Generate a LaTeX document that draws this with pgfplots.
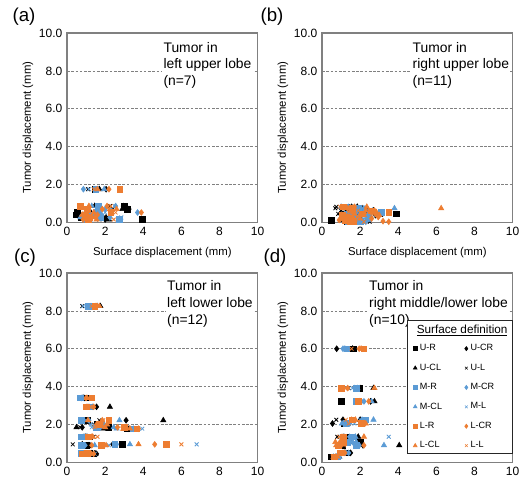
\documentclass[border=0pt]{standalone}
\usepackage{fontspec}
\setmainfont{Liberation Sans}
\usepackage{pgfplots}
\usepackage{pgfplotstable}
\pgfplotsset{compat=1.18}

\definecolor{ublk}{HTML}{000000}
\definecolor{mblu}{HTML}{5B9BD5}
\definecolor{lorg}{HTML}{ED7D31}

% one row per tumour: tumour displacement y, surface displacement for the 12 surface definitions
\pgfplotstableread{
y    UR   UCR  UCL  UL   MR   MCR  MCL  ML   LR   LCR  LCL  LL
1.75 1.45 2.05 1.70 1.10 1.50 0.86 1.95 1.15 2.77 2.20 1.60 1.40
0.86 3.00 2.95 1.45 2.25 1.65 2.55 1.30 2.50 0.70 2.10 1.15 2.30
0.70 3.15 3.25 2.90 2.40 1.05 2.00 1.70 2.30 1.05 1.85 2.60 2.20
0.52 0.55 1.00 1.25 1.10 1.50 3.70 1.75 2.00 2.30 3.90 1.40 2.55
0.40 0.45 0.70 0.90 1.30 1.25 1.10 0.95 1.60 0.95 1.60 0.80 1.00
0.26 0.75 1.90 2.05 2.15 1.75 2.25 0.70 2.85 1.20 1.00 1.45 0.90
0.15 3.95 2.00 2.20 1.70 2.75 0.90 1.20 2.80 1.10 0.85 1.55 2.45
}\tabA
\pgfplotstableread{
y    UR   UCR  UCL  UL   MR   MCR  MCL  ML   LR   LCR  LCL  LL
0.82 1.30 1.55 1.85 0.75 1.20 1.40 1.00 1.65 1.10 1.70 2.35 0.95
0.74 1.50 1.75 2.10 0.70 1.90 2.20 3.80 1.45 1.60 1.35 6.25 1.20
0.62 2.40 2.10 2.70 1.00 2.60 2.65 2.20 2.45 2.55 2.75 2.30 1.90
0.54 1.95 2.25 1.25 2.30 3.10 1.80 1.50 3.20 3.50 1.60 2.85 1.40
0.45 3.90 0.95 1.10 0.85 1.30 2.45 2.00 1.50 2.10 2.80 1.70 2.60
0.38 1.20 2.80 3.05 1.60 1.45 1.25 2.90 1.75 1.05 2.00 3.00 2.25
0.28 1.75 1.40 2.55 2.05 2.45 1.55 1.90 2.40 1.25 2.95 1.45 1.85
0.20 1.05 1.25 1.60 1.35 1.70 2.35 1.15 2.20 1.50 2.60 2.00 1.60
0.12 0.50 1.45 1.80 1.15 1.55 1.95 2.45 1.30 1.20 0.90 1.70 1.05
0.06 1.30 2.05 1.50 1.75 2.00 1.65 2.10 1.85 1.65 3.20 1.35 1.55
0.03 1.60 2.15 1.90 2.50 1.35 2.30 1.75 2.05 1.45 3.50 1.25 2.20
}\tabB
\pgfplotstableread{
y    UR   UCR  UCL  UL   MR   MCR  MCL  ML   LR   LCR  LCL  LL
8.25 1.40 1.55 1.75 0.80 1.10 1.25 1.60 0.85 1.45 1.50 1.70 1.30
3.40 0.95 0.90 0.85 0.80 0.70 0.75 0.80 0.90 1.30 1.00 1.05 1.10
2.93 1.25 1.55 2.25 1.20 1.10 1.35 1.15 1.30 1.00 1.40 1.05 1.20
2.22 1.05 3.10 5.05 1.70 0.75 1.15 2.75 1.00 2.20 1.85 1.10 1.90
2.00 1.60 1.75 1.50 1.40 1.80 1.65 1.95 1.25 1.70 1.55 2.10 1.85
1.85 2.20 0.80 0.50 0.70 1.55 1.75 2.45 1.30 3.00 2.65 2.00 1.45
1.78 3.15 3.25 1.90 2.10 3.45 3.50 2.60 3.95 3.65 3.75 3.30 2.90
1.35 1.20 1.05 0.95 1.40 0.75 0.85 1.00 1.25 1.10 1.30 1.35 1.60
0.95 2.90 2.40 0.80 0.30 2.50 2.60 3.30 6.80 5.20 4.60 3.75 6.00
0.90 1.00 1.20 1.15 0.90 0.75 0.95 1.45 2.20 1.80 1.30 2.05 1.95
0.47 1.20 1.45 1.30 1.10 0.75 0.95 1.05 1.35 1.05 1.25 0.90 1.15
0.45 1.35 1.55 1.50 1.25 0.95 1.15 1.20 1.45 0.80 1.40 1.00 1.30
}\tabC
\pgfplotstableread{
y    UR   UCR  UCL  UL   MR   MCR  MCL  ML   LR   LCR  LCL  LL
6.00 1.65 0.77 1.60 1.50 1.30 1.10 1.20 1.25 2.20 1.95 2.05 1.55
3.92 1.95 2.00 2.70 1.40 1.80 1.70 1.85 1.60 1.00 1.35 2.75 1.20
3.22 1.00 2.55 2.75 2.15 1.80 2.20 2.60 2.05 1.90 2.45 1.95 1.85
2.25 1.60 1.10 2.00 0.75 2.30 2.10 2.70 2.00 1.60 1.55 1.75 1.25
2.05 1.15 0.55 1.35 1.20 1.25 1.45 1.05 1.70 2.05 2.25 2.30 1.40
1.35 1.30 1.15 1.90 0.80 1.60 1.45 1.75 3.50 1.10 1.05 2.20 0.90
1.07 2.00 1.40 1.50 1.25 1.35 1.60 1.80 1.70 1.10 0.95 0.70 1.00
0.90 1.05 2.15 4.05 1.90 1.80 1.95 3.25 1.75 0.85 2.20 0.75 1.15
0.50 1.30 1.50 1.20 1.10 1.05 1.40 1.25 0.95 0.95 1.20 1.10 1.00
0.30 0.45 0.85 0.90 0.70 0.80 0.60 0.75 0.95 0.65 0.70 0.80 0.55
}\tabD

\pgfplotsset{
  panel/.style={
    scale only axis, width=143pt, height=142pt,
    xmin=0, xmax=10, ymin=0, ymax=10,
    xtick={0,2,...,10}, ytick={0,2,...,10},
    /pgf/number format/assume math mode=true,
    yticklabel style={/pgf/number format/fixed, /pgf/number format/fixed zerofill,
                      /pgf/number format/precision=1},
    tick label style={font=\fontsize{9}{10}\selectfont},
    major tick length=0pt,
    axis line style={black!50, line width=0.8pt},
    ymajorgrids, grid style={black!50, dash pattern=on 2pt off 1.2pt, line width=0.5pt},
    ylabel={Tumor displacement (mm)},
    ylabel style={font=\fontsize{8.5}{10}\selectfont, at={(axis description cs:-0.205,0.5)}, anchor=center},
    xlabel style={font=\fontsize{8.5}{10}\selectfont, at={(axis description cs:0.5,-0.158)}, anchor=center},
    clip=false,
  },
  ser/.style={only marks,
    legend image code/.code={\draw[mark repeat=2,mark phase=2,##1] plot coordinates {(0cm,0cm) (0.11cm,0cm) (0.22cm,0cm)};}},
}
\tikzset{note/.style={anchor=north west, fill=white, inner sep=1pt, align=left,
                      font=\fontsize{10.4}{12.5}\selectfont}}

\newcommand\allseries[1]{%
  \addplot[ser, ublk, mark=square*, mark size=2.1pt] table[x=UR, y=y] {#1};
  \addplot[ser, ublk, mark=diamond*, mark size=2.2pt] table[x=UCR, y=y] {#1};
  \addplot[ser, ublk, mark=triangle*, mark size=2.3pt] table[x=UCL, y=y] {#1};
  \addplot[ser, ublk, mark=x, mark size=2pt, mark options={line width=0.6pt}] table[x=UL, y=y] {#1};
  \addplot[ser, mblu, mark=square*, mark size=2.1pt] table[x=MR, y=y] {#1};
  \addplot[ser, mblu, mark=diamond*, mark size=2.2pt] table[x=MCR, y=y] {#1};
  \addplot[ser, mblu, mark=triangle*, mark size=2.3pt] table[x=MCL, y=y] {#1};
  \addplot[ser, mblu, mark=x, mark size=2pt, mark options={line width=0.6pt}] table[x=ML, y=y] {#1};
  \addplot[ser, lorg, mark=square*, mark size=2.1pt] table[x=LR, y=y] {#1};
  \addplot[ser, lorg, mark=diamond*, mark size=2.2pt] table[x=LCR, y=y] {#1};
  \addplot[ser, lorg, mark=triangle*, mark size=2.3pt] table[x=LCL, y=y] {#1};
  \addplot[ser, lorg, mark=x, mark size=2pt, mark options={line width=0.6pt}] table[x=LL, y=y] {#1};
}

\begin{document}
\begin{tikzpicture}
  \useasboundingbox (0pt,0pt) rectangle (390.75pt,-361.5pt);

  \begin{axis}[panel, at={(50.25pt,-24.75pt)}, anchor=north west,
               xlabel={Surface displacement (mm)}]
    \allseries{\tabA}
    \node[note] at (rel axis cs:0.498,0.96) {Tumor in\\left upper lobe\\(n=7)};
  \end{axis}

  \begin{axis}[panel, at={(241.5pt,-24.75pt)}, anchor=north west,
               xlabel={Surface displacement (mm)}]
    \allseries{\tabB}
    \node[note] at (rel axis cs:0.467,0.96) {Tumor in\\right upper lobe\\(n=11)};
  \end{axis}

  \begin{axis}[panel, at={(50.25pt,-204.75pt)}, anchor=north west]
    \allseries{\tabC}
    \node[note] at (rel axis cs:0.517,0.967) {Tumor in\\left lower lobe\\(n=12)};
  \end{axis}

  \begin{axis}[panel, at={(241.5pt,-204.75pt)}, anchor=north west,
               legend columns=2, legend cell align=left,
               legend entries={U-R,U-CR,U-CL,U-L,M-R,M-CR,M-CL,M-L,L-R,L-CR,L-CL,L-L},
               legend image post style={mark options={scale=0.72}},
               legend style={at={(rel axis cs:0.47,0.645)}, anchor=north west,
                             draw=none, fill=none, inner sep=1pt,
                             font=\fontsize{6.8}{8}\selectfont, row sep=4.3pt,
                             /tikz/every even column/.append style={column sep=15pt}}]
    \allseries{\tabD}
    \node[note] at (rel axis cs:0.239,0.967) {Tumor in\\right middle/lower lobe\\(n=10)};
    \draw[black!85, line width=0.7pt, fill=white]
      (rel axis cs:0.447,0.751) rectangle (rel axis cs:1.0,0.048);
    \node[font=\fontsize{8.8}{10}\selectfont] at (rel axis cs:0.735,0.695) {\underline{Surface definition}};
  \end{axis}

  \node[font=\fontsize{14}{16}\selectfont] at (18pt,-12.75pt) {(a)};
  \node[font=\fontsize{14}{16}\selectfont] at (204pt,-12.75pt) {(b)};
  \node[font=\fontsize{14}{16}\selectfont] at (18.75pt,-193.5pt) {(c)};
  \node[font=\fontsize{14}{16}\selectfont] at (206.25pt,-193.5pt) {(d)};
\end{tikzpicture}
\end{document}
